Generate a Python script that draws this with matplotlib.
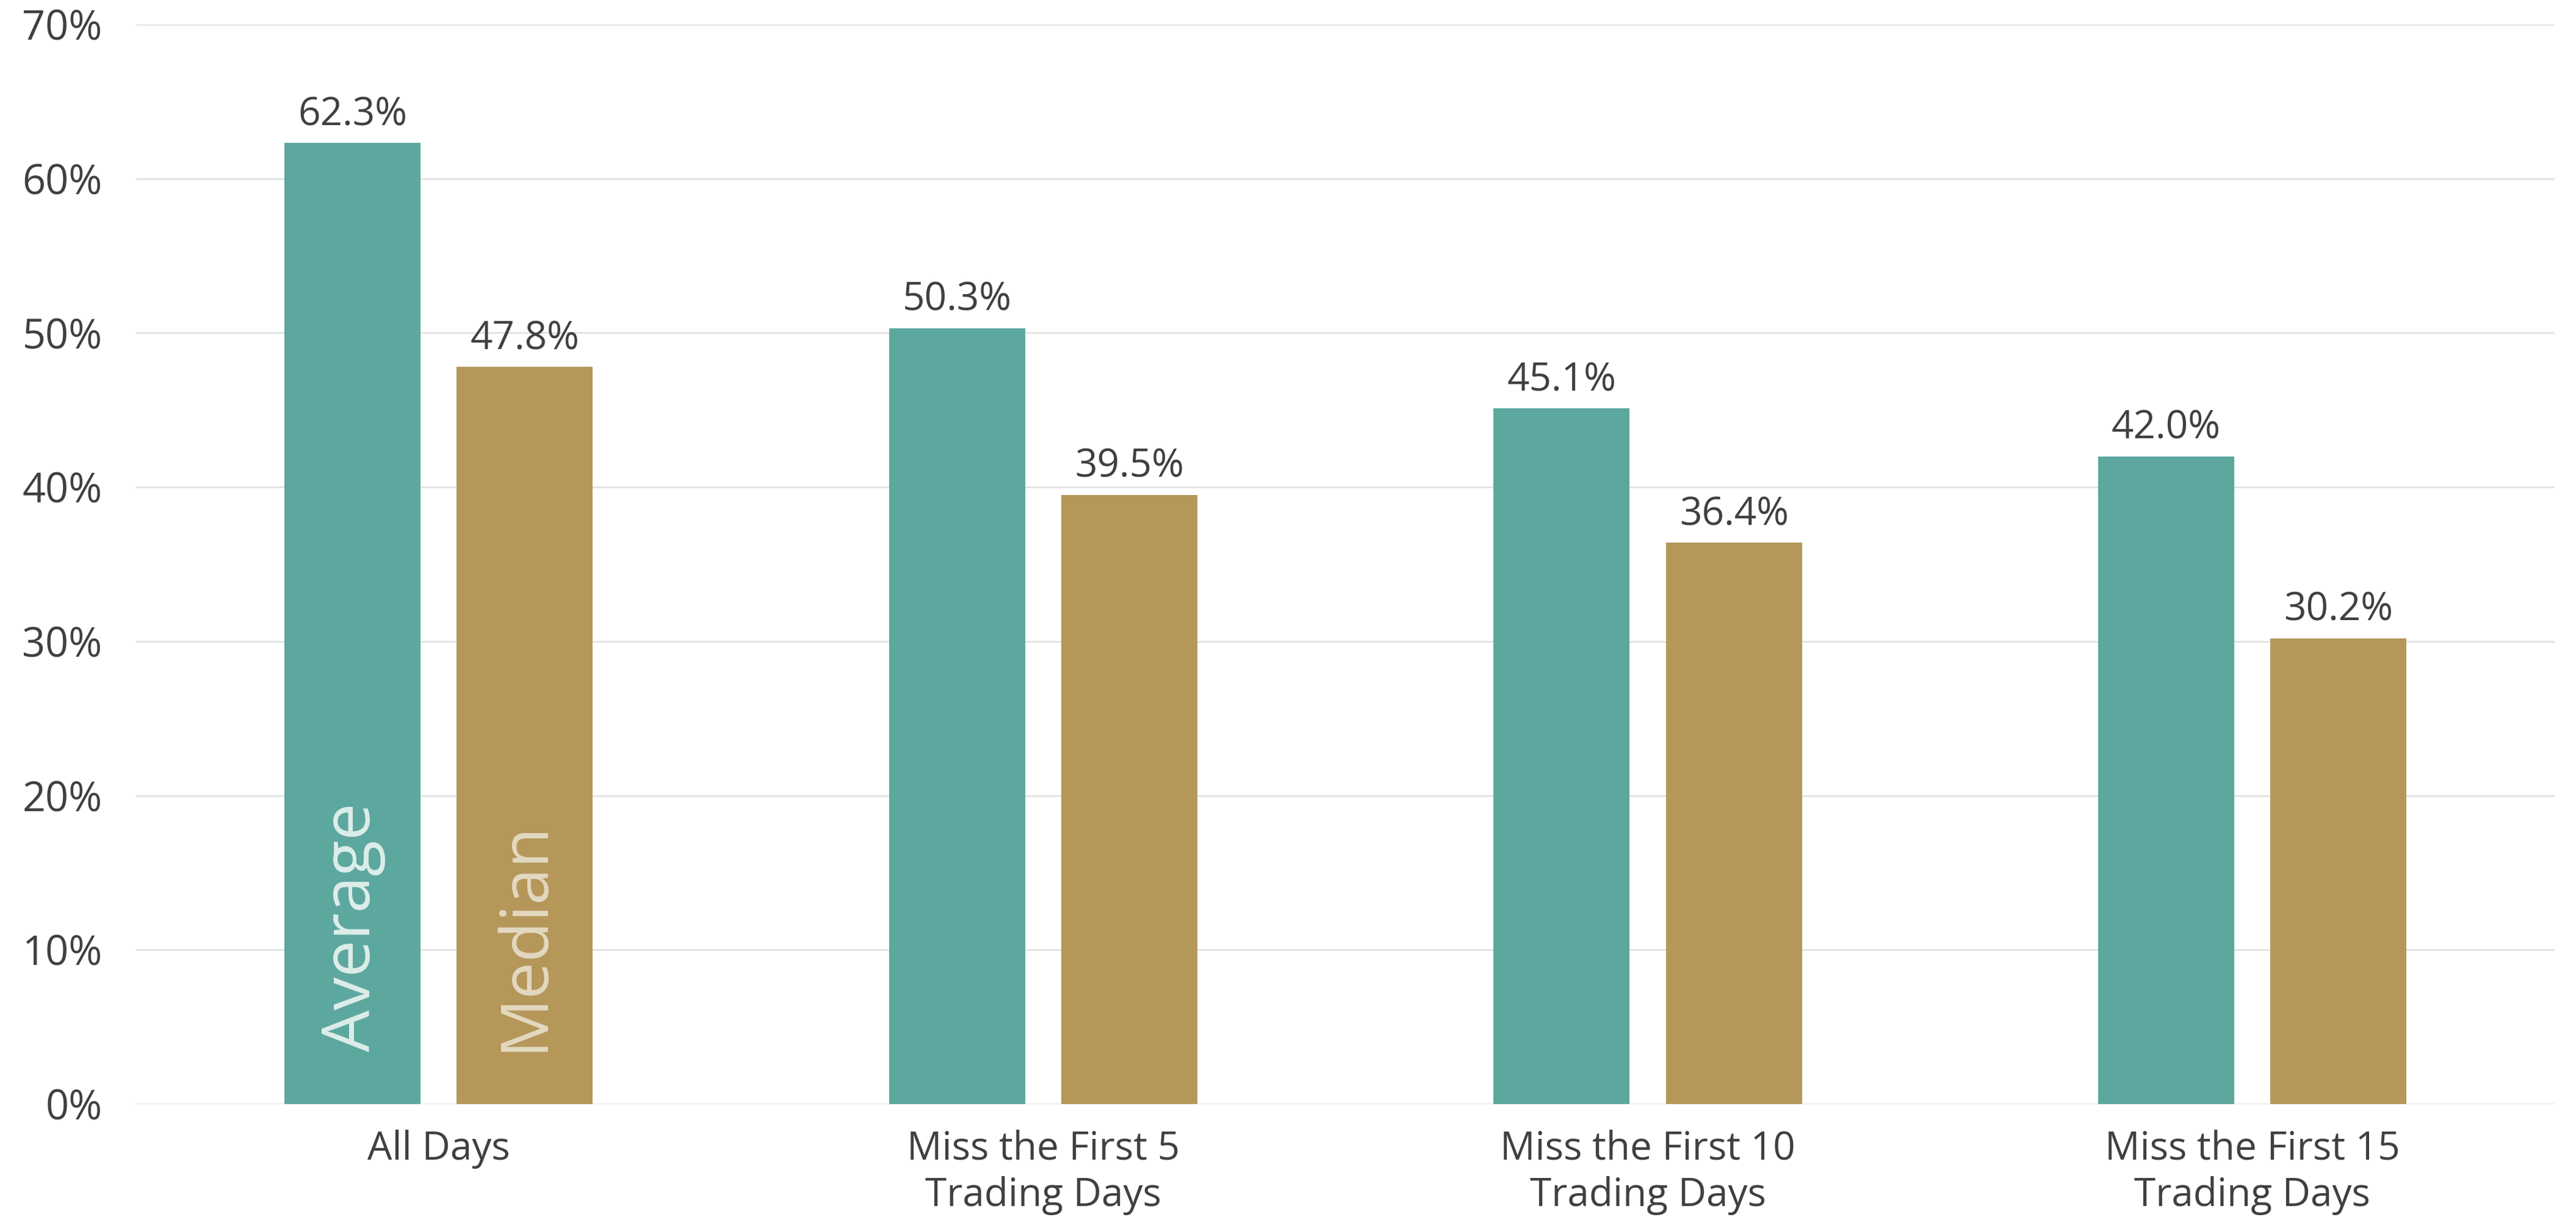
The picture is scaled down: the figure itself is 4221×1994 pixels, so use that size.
import numpy as np
import matplotlib.pyplot as plt
from matplotlib.ticker import FuncFormatter

# Data
categories = ["All Days", "Miss the First 5\nTrading Days",
              "Miss the First 10\nTrading Days", "Miss the First 15\nTrading Days"]
average = [62.3, 50.3, 45.1, 42.0]
median = [47.8, 39.5, 36.4, 30.2]
yticks = [0, 10, 20, 30, 40, 50, 60, 70]

teal = "#5DA89E"
gold = "#B5975A"
text_col = "#404040"
grid_col = "#E2E2E2"

plt.rcParams['font.family'] = ['Open Sans', 'DejaVu Sans']

fig = plt.figure(figsize=(21.105, 9.97), dpi=200)
ax = fig.add_axes([0.0529, 0.0928, 0.9388, 0.8872])

x = np.arange(len(categories))
w = 0.225
off = 0.1425
b1 = ax.bar(x - off, average, width=w, color=teal, zorder=3)
b2 = ax.bar(x + off, median, width=w, color=gold, zorder=3)

# value labels
for bars in (b1, b2):
    for r in bars:
        h = r.get_height()
        ax.annotate(f"{h:.1f}%", (r.get_x() + r.get_width() / 2, h),
                    xytext=(0, 5), textcoords="offset points",
                    ha="center", va="bottom", fontsize=23, color=text_col)

# series names inside first pair of bars
ax.text(x[0] - off, 3.4, "Average", rotation=90, ha="center", va="bottom",
        fontsize=39, color="#DDEDEA", zorder=4)
ax.text(x[0] + off, 3.4, "Median", rotation=90, ha="center", va="bottom",
        fontsize=39, color="#E3D8C0", zorder=4)

ax.set_xlim(-0.5, 3.5)
ax.set_ylim(0, 70)
ax.set_yticks(yticks)
ax.yaxis.set_major_formatter(FuncFormatter(lambda v, p: f"{v:.0f}%"))
ax.set_xticks(x)
ax.set_xticklabels(categories, linespacing=1.25)

ax.tick_params(axis="y", length=0, pad=20, labelsize=24, labelcolor=text_col)
ax.tick_params(axis="x", length=0, pad=15, labelsize=23, labelcolor=text_col)

ax.grid(axis="y", color=grid_col, linewidth=1.0, zorder=0)
ax.set_axisbelow(True)
for s in ax.spines.values():
    s.set_visible(False)

fig.savefig("out.png", dpi=200)
